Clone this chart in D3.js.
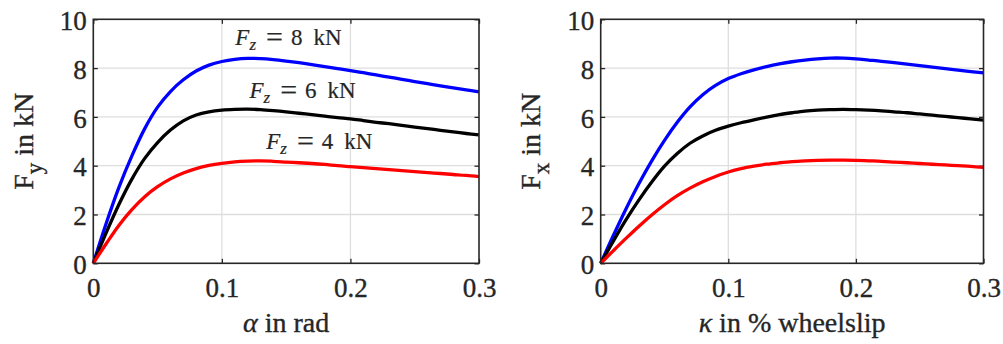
<!DOCTYPE html>
<html>
<head>
<meta charset="utf-8">
<script src="https://cdn.jsdelivr.net/npm/d3@7"></script>
<style>
  body { margin: 0; background: #fff; }
  svg { display: block; }
  text { font-family: "Liberation Serif", "Times New Roman", serif; fill: #262626; stroke: #262626; stroke-width: 0.35px; }
</style>
</head>
<body>
<svg id="chart" width="1003" height="344"></svg>
<script>
// slip angle / wheelslip samples (x values)
const slip = [0, 0.01, 0.02, 0.03, 0.04, 0.05, 0.06, 0.07, 0.08, 0.09, 0.10,
              0.11, 0.12, 0.13, 0.14, 0.15, 0.16, 0.17, 0.18, 0.19, 0.20,
              0.21, 0.22, 0.23, 0.24, 0.25, 0.26, 0.27, 0.28, 0.29, 0.30];

// lateral force Fy (kN), left panel
const fy8 = [0, 1.63, 3.12, 4.4, 5.52, 6.4, 7.04, 7.52, 7.88, 8.12, 8.27,
             8.36, 8.4, 8.39, 8.35, 8.29, 8.22, 8.14, 8.06, 7.98, 7.9,
             7.81, 7.72, 7.63, 7.54, 7.45, 7.36, 7.27, 7.19, 7.11, 7.03];
const fy6 = [0, 1.25, 2.42, 3.45, 4.3, 4.95, 5.46, 5.84, 6.08, 6.21, 6.28,
             6.31, 6.32, 6.3, 6.26, 6.21, 6.15, 6.09, 6.03, 5.97, 5.92,
             5.85, 5.78, 5.72, 5.65, 5.58, 5.52, 5.45, 5.39, 5.32, 5.26];
const fy4 = [0, 0.8, 1.56, 2.2, 2.73, 3.14, 3.46, 3.7, 3.88, 4.01, 4.1,
             4.16, 4.19, 4.2, 4.18, 4.15, 4.12, 4.09, 4.05, 4.0, 3.96,
             3.92, 3.88, 3.84, 3.8, 3.76, 3.72, 3.68, 3.64, 3.6, 3.55];

// longitudinal force Fx (kN), right panel
const fx8 = [0, 1.15, 2.25, 3.27, 4.2, 5.04, 5.78, 6.41, 6.91, 7.29, 7.57,
             7.77, 7.93, 8.06, 8.17, 8.26, 8.33, 8.38, 8.41, 8.41, 8.38,
             8.33, 8.28, 8.22, 8.16, 8.1, 8.04, 7.98, 7.92, 7.86, 7.8];
const fx6 = [0, 0.92, 1.8, 2.6, 3.33, 3.98, 4.5, 4.92, 5.22, 5.45, 5.62,
             5.76, 5.88, 5.99, 6.09, 6.17, 6.24, 6.28, 6.3, 6.31, 6.3,
             6.28, 6.25, 6.21, 6.17, 6.12, 6.07, 6.02, 5.97, 5.92, 5.87];
const fx4 = [0, 0.52, 1.03, 1.52, 1.98, 2.4, 2.77, 3.08, 3.34, 3.56, 3.74,
             3.88, 3.98, 4.06, 4.12, 4.17, 4.2, 4.22, 4.23, 4.23, 4.22,
             4.2, 4.18, 4.15, 4.12, 4.09, 4.06, 4.03, 4.0, 3.97, 3.93];

const xTicks = [0, 0.1, 0.2, 0.3];
const xTickLabels = ["0", "0.1", "0.2", "0.3"];
const yTicks = [0, 2, 4, 6, 8, 10];
const loads = ["8", "6", "4"];
const colors = ["#0000ff", "#000000", "#ff0000"];

const svg = d3.select("#chart");
const serif = '"Liberation Serif", "Times New Roman", serif';

function panel(opts) {
  const x = d3.scaleLinear().domain([0, 0.3]).range([opts.left, opts.right]);
  const y = d3.scaleLinear().domain([0, 10]).range([263.3, 19.3]);
  const g = svg.append("g");

  // grid
  g.append("g").selectAll("line").data(xTicks.slice(1, -1)).join("line")
    .attr("x1", d => x(d)).attr("x2", d => x(d))
    .attr("y1", y(0)).attr("y2", y(10))
    .attr("stroke", "#dedede").attr("stroke-width", 1.3);
  g.append("g").selectAll("line").data(yTicks.slice(1, -1)).join("line")
    .attr("x1", x(0)).attr("x2", x(0.3))
    .attr("y1", d => y(d)).attr("y2", d => y(d))
    .attr("stroke", "#dedede").attr("stroke-width", 1.3);

  // axes with inward ticks
  const fmtX = (d, i) => xTickLabels[i];
  const bottom = g.append("g").attr("transform", `translate(0,${y(0)})`)
    .call(d3.axisBottom(x).tickValues(xTicks).tickFormat(fmtX).tickSizeInner(-4.5).tickSizeOuter(0).tickPadding(14.5));
  const top = g.append("g").attr("transform", `translate(0,${y(10)})`)
    .call(d3.axisTop(x).tickValues(xTicks).tickFormat("").tickSizeInner(-4.5).tickSizeOuter(0));
  const left = g.append("g").attr("transform", `translate(${x(0)},0)`)
    .call(d3.axisLeft(y).tickValues(yTicks).tickSizeInner(-4.5).tickSizeOuter(0).tickPadding(6.5));
  const right = g.append("g").attr("transform", `translate(${x(0.3)},0)`)
    .call(d3.axisRight(y).tickValues(yTicks).tickFormat("").tickSizeInner(-4.5).tickSizeOuter(0));
  [bottom, top, left, right].forEach(a => {
    a.attr("font-family", serif).attr("font-size", 27);
    a.select(".domain").remove();
    a.selectAll(".tick line").attr("stroke", "#262626").attr("stroke-width", 1.3);
    a.selectAll("text").attr("fill", "#262626");
  });
  left.selectAll("text").attr("dy", "0.38em");

  // curves
  const line = d3.line().x((d, i) => x(slip[i])).y(d => y(d)).curve(d3.curveCatmullRom.alpha(0.5));
  opts.series.forEach((s, k) => {
    g.append("path").datum(s).attr("d", line)
      .attr("fill", "none").attr("stroke", colors[k]).attr("stroke-width", 3.3)
      .attr("stroke-linejoin", "round");
  });

  // box
  g.append("rect").attr("x", x(0)).attr("y", y(10))
    .attr("width", x(0.3) - x(0)).attr("height", y(0) - y(10))
    .attr("fill", "none").attr("stroke", "#262626").attr("stroke-width", 1.6);

  // y label
  const yl = g.append("text").attr("font-size", 28)
    .attr("transform", `translate(${opts.left - 60.5},${(y(0) + y(10)) / 2}) rotate(-90)`)
    .attr("text-anchor", "middle");
  yl.append("tspan").text("F");
  yl.append("tspan").attr("font-size", 23).attr("dy", 9).text(opts.sub);
  yl.append("tspan").attr("dy", -9).text(" in kN");

  // x label
  const xl = g.append("text").attr("font-size", 28)
    .attr("x", (x(0) + x(0.3)) / 2).attr("y", 332).attr("text-anchor", "middle");
  xl.append("tspan").attr("font-style", "italic").text(opts.sym);
  xl.append("tspan").text(opts.xtext);

  return { x, y, g };
}

const L = panel({ left: 93.3, right: 479, series: [fy8, fy6, fy4], sub: "y", sym: "α", xtext: " in rad" });
panel({ left: 600.7, right: 983.5, series: [fx8, fx6, fx4], sub: "x", sym: "κ", xtext: " in % wheelslip" });

// load annotations on the lateral panel
const annX = [0.1105, 0.1215, 0.1345];
const annY = [8.96, 6.77, 4.68];
loads.forEach((f, i) => {
  const t = L.g.append("text").attr("font-size", 23).style("stroke-width", "0.2px")
    .attr("x", L.x(annX[i])).attr("y", L.y(annY[i]));
  t.append("tspan").attr("font-style", "italic").text("F");
  t.append("tspan").attr("font-style", "italic").attr("font-size", 17).attr("dy", 5).text("z");
  t.append("tspan").attr("dy", -3).attr("dx", 10).attr("font-size", 30).text("=");
  t.append("tspan").attr("dy", -2).attr("dx", 8).text(f);
  t.append("tspan").attr("dx", 11).text("kN");
});
</script>
</body>
</html>
